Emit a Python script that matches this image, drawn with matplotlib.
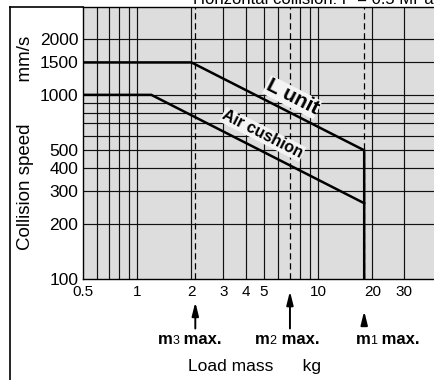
import matplotlib
matplotlib.use("Agg")
import matplotlib.pyplot as plt
from matplotlib.lines import Line2D
from matplotlib.offsetbox import TextArea, HPacker, AnnotationBbox

plt.rcParams['font.family'] = ['Liberation Sans', 'DejaVu Sans']

# curves
lunit_x = [0.5, 2.0, 18, 18]
lunit_y = [1500, 1500, 500, 100]
air_x = [0.5, 1.2, 18]
air_y = [1000, 1000, 258]

# max load markers
mmax_names = ['3', '2', '1']
mmax_x = [2.1, 7, 18]

# grid / ticks
x_grid = [0.6, 0.7, 0.8, 0.9, 1, 2, 3, 4, 5, 6, 8, 9, 10, 20, 30]
y_grid = [200, 300, 400, 500, 600, 700, 800, 900, 1000, 1500, 2000]
x_ticks = [0.5, 1, 2, 3, 4, 5, 10, 20, 30]
x_labels = ['0.5', '1', '2', '3', '4', '5', '10', '20', '30']
y_ticks = [100, 200, 300, 400, 500, 1000, 1500, 2000]
y_labels = ['100', '200', '300', '400', '500', '1000', '1500', '2000']

W, H = 434, 380
fig = plt.figure(figsize=(W / 100, H / 100), dpi=100)
ax = fig.add_axes([82.5 / W, (H - 279) / H, 362 / W, 272 / H])
ax.set_facecolor('#dddddd')
ax.set_xscale('log')
ax.set_yscale('log')
ax.set_xlim(0.5, 50)
ax.set_ylim(100, 3000)

for xv in x_grid:
    ax.axvline(xv, color='#111111', lw=0.85, zorder=1)
for yv in y_grid:
    ax.axhline(yv, color='#111111', lw=0.85, zorder=1)

for xv in mmax_x:
    ax.axvline(xv, color='black', lw=0.9, ls=(0, (5, 3)), zorder=2)

ax.plot(lunit_x, lunit_y, color='black', lw=1.8, zorder=3, solid_joinstyle='miter')
ax.plot(air_x, air_y, color='black', lw=1.8, zorder=3, solid_joinstyle='miter')

ax.text(7.2, 970, 'L unit', rotation=-27, fontsize=15, fontweight='bold',
        ha='center', va='center', zorder=4,
        bbox=dict(facecolor='#f4f4f4', edgecolor='none', pad=0.5))
ax.text(4.95, 610, 'Air cushion', rotation=-27, fontsize=11.5, fontweight='bold',
        ha='center', va='center', zorder=4,
        bbox=dict(facecolor='#f4f4f4', edgecolor='none', pad=0.5))

ax.set_xticks(x_ticks)
ax.set_xticklabels(x_labels, fontsize=11)
ax.set_xticks([], minor=True)
ax.set_yticks(y_ticks)
ax.set_yticklabels(y_labels, fontsize=12.5)
ax.set_yticks([], minor=True)
ax.tick_params(length=0, pad=3)
ax.tick_params(axis='x', pad=4)
for s in ax.spines.values():
    s.set_linewidth(1.0)

ax.set_ylabel('Collision speed        mm/s', fontsize=13.5, labelpad=4)

# arrows + labels under the axis
tips = [-0.085, -0.045, -0.118]
tails = [-0.182, -0.182, -0.165]
label_dx = [-4, -2, 17]
for name, xv, tip, tail, dx in zip(mmax_names, mmax_x, tips, tails, label_dx):
    ax.annotate('', xy=(xv, tip), xycoords=('data', 'axes fraction'),
                xytext=(xv, tail), textcoords=('data', 'axes fraction'),
                arrowprops=dict(arrowstyle='-|>,head_length=0.8,head_width=0.2',
                                color='black', lw=1.4, shrinkA=0, shrinkB=0),
                annotation_clip=False)
    box = HPacker(children=[
        TextArea('m', textprops=dict(fontsize=12, fontweight='bold')),
        TextArea(name, textprops=dict(fontsize=9)),
        TextArea(' max.', textprops=dict(fontsize=12, fontweight='bold')),
    ], align='baseline', pad=0, sep=0)
    ab = AnnotationBbox(box, (xv, -0.224), xycoords=('data', 'axes fraction'),
                        xybox=(dx, 0), boxcoords='offset points',
                        frameon=False, box_alignment=(0.5, 0.5),
                        annotation_clip=False)
    ax.add_artist(ab)

fig.text(255 / W, 1 - 367 / H, 'Load mass      kg', fontsize=12.5,
         ha='center', va='center')
fig.text(193 / W, 1 - 4 / H, 'Horizontal collision: P = 0.5 MPa', fontsize=12,
         ha='left', va='baseline')

# outer frame
fig.add_artist(Line2D([9.5 / W, 9.5 / W], [0, 1 - 7 / H], color='black', lw=1.2))
fig.add_artist(Line2D([9.5 / W, 82.5 / W], [1 - 7 / H, 1 - 7 / H], color='black', lw=1.2))

fig.savefig('out.png', dpi=100)
